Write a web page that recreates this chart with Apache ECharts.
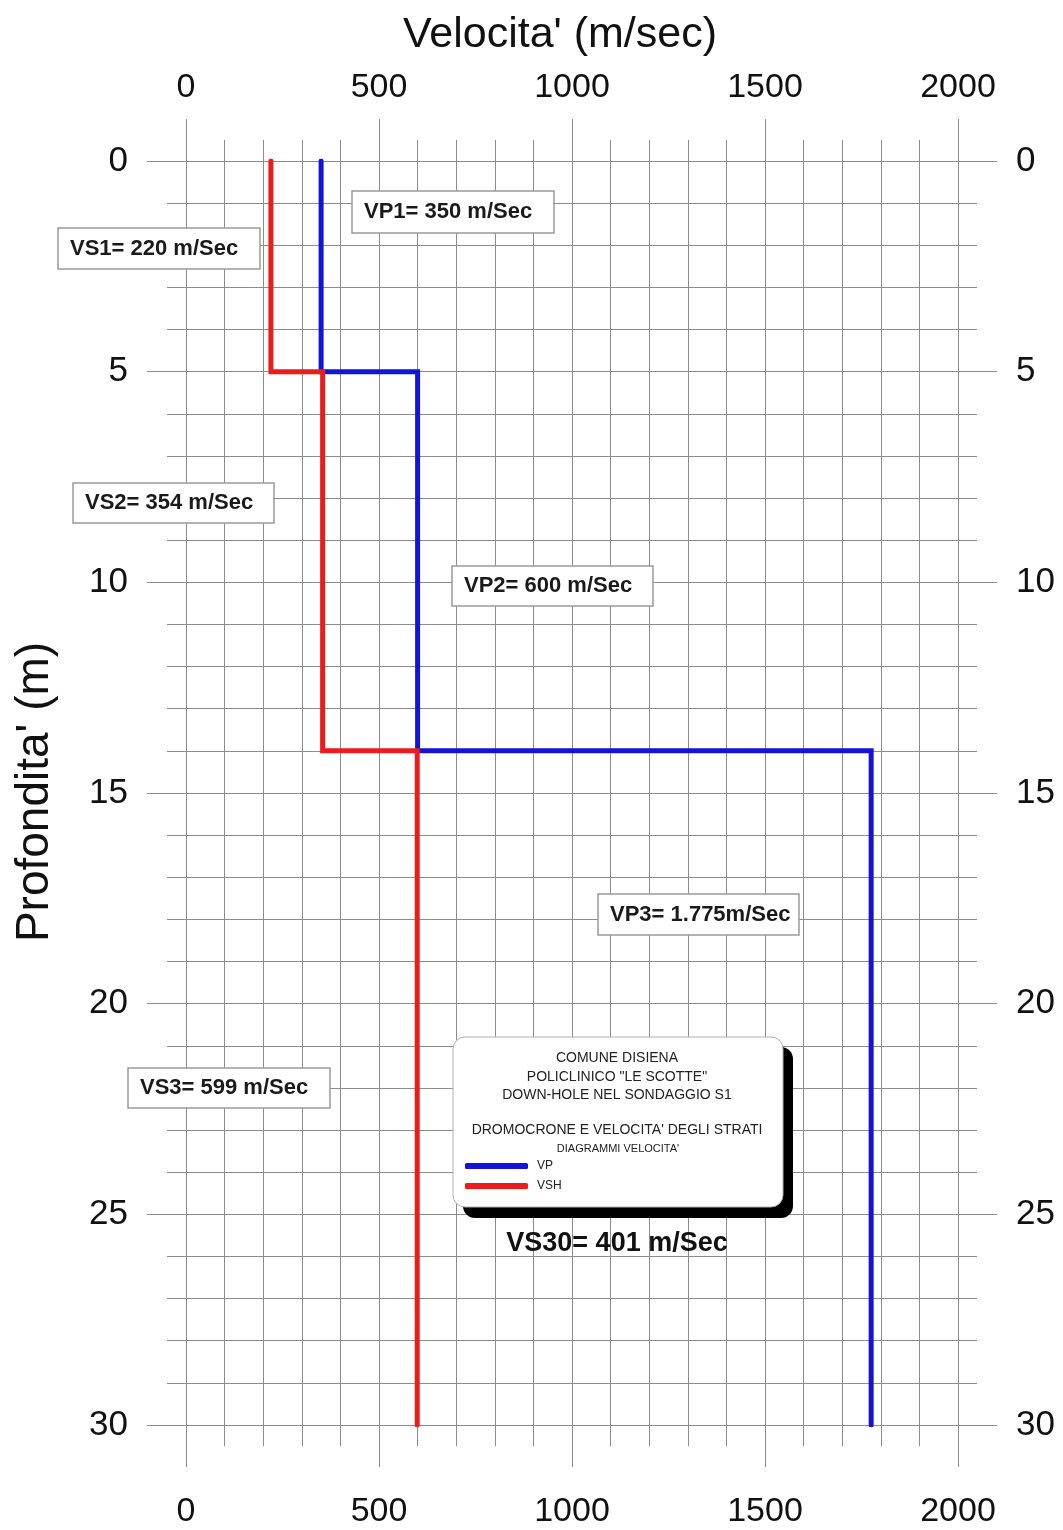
<!DOCTYPE html>
<html>
<head>
<meta charset="utf-8">
<script src="https://cdn.jsdelivr.net/npm/echarts@6/dist/echarts.min.js"></script>
<style>
html,body{margin:0;padding:0;background:#fff;}
#chart{width:1063px;height:1530px;}
</style>
</head>
<body>
<div id="chart"></div>
<script>
// ---- data ----
const depthTop = [0, 5, 14];          // m
const depthBottom = [5, 14, 30];      // m
const vpValues = [350, 600, 1775];    // m/sec
const vsValues = [220, 354, 599];     // m/sec
const xRange = [0, 2000];
const yRange = [0, 30];
const xTickStep = 500;
const yTickStep = 5;
const vpLabels = ["VP1= 350 m/Sec", "VP2= 600 m/Sec", "VP3= 1.775m/Sec"];
const vsLabels = ["VS1= 220 m/Sec", "VS2= 354 m/Sec", "VS3= 599 m/Sec"];
const vs30Label = "VS30= 401 m/Sec";
const legendTitle = ["COMUNE DISIENA", "POLICLINICO \"LE SCOTTE\"", "DOWN-HOLE NEL SONDAGGIO S1", "", "DROMOCRONE E VELOCITA' DEGLI STRATI"];
const legendSub = "DIAGRAMMI VELOCITA'";

function stepPoints(vals) {
  const pts = [];
  for (let i = 0; i < vals.length; i++) {
    pts.push([vals[i], depthTop[i]]);
    pts.push([vals[i], depthBottom[i]]);
  }
  return pts;
}

const FONT = "'Liberation Sans', Arial, sans-serif";
const GRID_C = '#8c8c8c';
const plainNum = v => String(v);

function xAxisCfg(pos, margin, split) {
  return {
    type: 'value', position: pos, min: xRange[0], max: xRange[1], interval: xTickStep,
    axisLine: {show: false, onZero: false},
    axisTick: {show: true, length: 42, lineStyle: {color: GRID_C, width: 1}},
    minorTick: {show: true, splitNumber: 5, length: 21, lineStyle: {color: GRID_C, width: 1}},
    splitLine: {show: split, lineStyle: {color: GRID_C, width: 1}},
    minorSplitLine: {show: split, lineStyle: {color: GRID_C, width: 1}},
    axisLabel: {margin: margin, fontSize: 34, color: '#111', fontFamily: FONT, formatter: plainNum}
  };
}
function yAxisCfg(pos, split) {
  return {
    type: 'value', position: pos, inverse: true, min: yRange[0], max: yRange[1], interval: yTickStep,
    axisLine: {show: false, onZero: false},
    axisTick: {show: true, length: 39, lineStyle: {color: GRID_C, width: 1}},
    minorTick: {show: true, splitNumber: 5, length: 19, lineStyle: {color: GRID_C, width: 1}},
    splitLine: {show: split, lineStyle: {color: GRID_C, width: 1}},
    minorSplitLine: {show: split, lineStyle: {color: GRID_C, width: 1}},
    axisLabel: {margin: 58, fontSize: 35, color: '#111', fontFamily: FONT, formatter: plainNum}
  };
}

const boxes = [
  {t: vpLabels[0], x: 352, y: 191, w: 202, h: 42},
  {t: vsLabels[0], x: 58, y: 228, w: 202, h: 41},
  {t: vsLabels[1], x: 73, y: 483, w: 201, h: 40},
  {t: vpLabels[1], x: 452, y: 566, w: 201, h: 40},
  {t: vpLabels[2], x: 598, y: 894, w: 201, h: 41},
  {t: vsLabels[2], x: 128, y: 1068, w: 202, h: 40}
];

const graphics = [];
boxes.forEach(b => {
  graphics.push({type: 'rect', z: 10, shape: {x: b.x, y: b.y, width: b.w, height: b.h},
    style: {fill: '#fff', stroke: '#9a9a9a', lineWidth: 1.5}});
  graphics.push({type: 'text', z: 11, x: b.x + 12, y: b.y + b.h / 2,
    style: {text: b.t, font: 'bold 22px ' + FONT, fill: '#1a1a1a', verticalAlign: 'middle', align: 'left'}});
});
// legend panel
graphics.push({type: 'rect', z: 10, shape: {x: 463, y: 1047, width: 330, height: 171, r: 12}, style: {fill: '#000'}});
graphics.push({type: 'rect', z: 11, shape: {x: 453, y: 1037, width: 330, height: 170, r: 12},
  style: {fill: '#fff', stroke: '#b0b0b0', lineWidth: 1}});
const titleYs = [1058, 1077, 1095, 1113, 1130];
legendTitle.forEach((t, i) => {
  if (!t) return;
  graphics.push({type: 'text', z: 12, x: 617, y: titleYs[i],
    style: {text: t, font: '14px ' + FONT, fill: '#222', align: 'center', verticalAlign: 'middle'}});
});
graphics.push({type: 'text', z: 12, x: 618, y: 1149,
  style: {text: legendSub, font: '11px ' + FONT, fill: '#222', align: 'center', verticalAlign: 'middle'}});
graphics.push({type: 'text', z: 12, x: 617, y: 1244,
  style: {text: vs30Label, font: 'bold 27px ' + FONT, fill: '#111', align: 'center', verticalAlign: 'middle'}});
// titles
graphics.push({type: 'text', z: 12, x: 560, y: 35,
  style: {text: "Velocita' (m/sec)", font: '43px ' + FONT, fill: '#111', align: 'center', verticalAlign: 'middle'}});
graphics.push({type: 'text', z: 12, x: 35, y: 792, rotation: Math.PI / 2,
  style: {text: "Profondita' (m)", font: '46px ' + FONT, fill: '#111', align: 'center', verticalAlign: 'middle'}});

const chart = echarts.init(document.getElementById('chart'), null, {renderer: 'canvas'});
chart.setOption({
  animation: false,
  backgroundColor: '#fff',
  grid: {left: 186, right: 105, top: 161, bottom: 105, containLabel: false},
  xAxis: [xAxisCfg('top', 56, true), xAxisCfg('bottom', 70, false)],
  yAxis: [yAxisCfg('left', true), yAxisCfg('right', false)],
  legend: {
    orient: 'vertical', left: 465, top: 1160, padding: 0, z: 20, itemWidth: 63, itemHeight: 6, itemGap: 8,
    icon: 'roundRect',
    textStyle: {fontSize: 12, color: '#222', fontFamily: FONT, padding: [0, 0, 0, 4]},
    data: ['VP', 'VSH']
  },
  series: [
    {name: 'VP', type: 'line', xAxisIndex: 0, yAxisIndex: 0, data: stepPoints(vpValues), showSymbol: false, symbol: 'none',
      color: '#1414d8', lineStyle: {width: 5, color: '#1414d8', cap: 'round', join: 'miter'}, z: 3},
    {name: 'VSH', type: 'line', xAxisIndex: 0, yAxisIndex: 0, data: stepPoints(vsValues), showSymbol: false, symbol: 'none',
      color: '#ec1c1c', lineStyle: {width: 5, color: '#ec1c1c', cap: 'round', join: 'miter'}, z: 4}
  ],
  graphic: graphics
});
</script>
</body>
</html>
